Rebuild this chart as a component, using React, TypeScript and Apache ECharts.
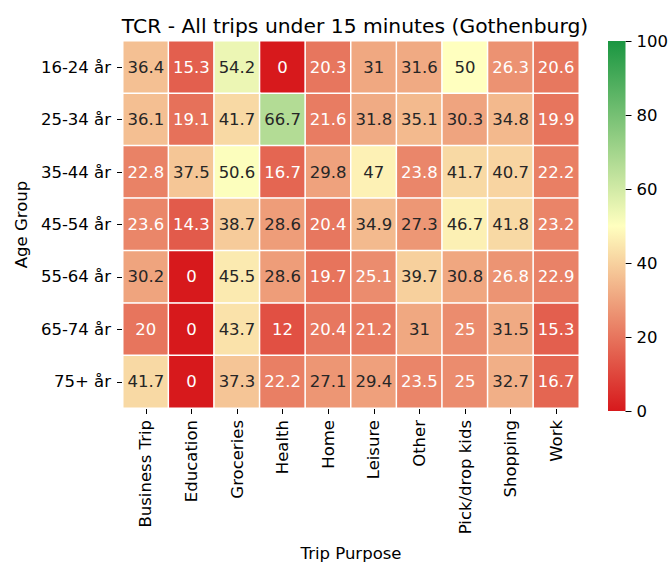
import React, { useEffect, useRef } from "react";
import * as echarts from "echarts";

const purposes = ["Business Trip", "Education", "Groceries", "Health", "Home", "Leisure", "Other", "Pick/drop kids", "Shopping", "Work"];
const ageGroups = ["16-24 år", "25-34 år", "35-44 år", "45-54 år", "55-64 år", "65-74 år", "75+ år"];
const row1624 = [36.4, 15.3, 54.2, 0, 20.3, 31, 31.6, 50, 26.3, 20.6];
const row2534 = [36.1, 19.1, 41.7, 66.7, 21.6, 31.8, 35.1, 30.3, 34.8, 19.9];
const row3544 = [22.8, 37.5, 50.6, 16.7, 29.8, 47, 23.8, 41.7, 40.7, 22.2];
const row4554 = [23.6, 14.3, 38.7, 28.6, 20.4, 34.9, 27.3, 46.7, 41.8, 23.2];
const row5564 = [30.2, 0, 45.5, 28.6, 19.7, 25.1, 39.7, 30.8, 26.8, 22.9];
const row6574 = [20, 0, 43.7, 12, 20.4, 21.2, 31, 25, 31.5, 15.3];
const row75 = [41.7, 0, 37.3, 22.2, 27.1, 29.4, 23.5, 25, 32.7, 16.7];
const rows = [row1624, row2534, row3544, row4554, row5564, row6574, row75];
const colorbarTicks = [0, 20, 40, 60, 80, 100];

const RED = [215, 25, 28];
const YEL = [255, 255, 191];
const GRN = [26, 150, 65];
const toHex = (c: number[]) => "#" + c.map((v) => Math.round(v).toString(16).padStart(2, "0")).join("");

function cmap(v: number): number[] {
  const t = Math.max(0, Math.min(1, v / 100));
  if (t <= 0.5) {
    const f = t / 0.5;
    return RED.map((r, i) => r + (YEL[i] - r) * f);
  }
  const f = (t - 0.5) / 0.5;
  return YEL.map((r, i) => r + (GRN[i] - r) * f);
}
function lum(c: number[]): number {
  const l = c.map((x) => {
    const s = x / 255;
    return s <= 0.03928 ? s / 12.92 : Math.pow((s + 0.055) / 1.055, 2.4);
  });
  return 0.2126 * l[0] + 0.7152 * l[1] + 0.0722 * l[2];
}

const FONT = "DejaVu Sans";
const FS = 16.5;

export default function App() {
  const ref = useRef<HTMLDivElement>(null);
  useEffect(() => {
    const chart = echarts.init(ref.current!, undefined, { renderer: "svg" });
    const data: any[] = [];
    rows.forEach((r, yi) => r.forEach((v, xi) => data.push([xi, yi, v])));
    chart.setOption({
      animation: false,
      backgroundColor: "#ffffff",
      textStyle: { fontFamily: FONT },
      title: {
        text: "TCR - All trips under 15 minutes (Gothenburg)",
        left: 350,
        top: 11,
        textAlign: "center",
        textStyle: { fontFamily: FONT, fontSize: 20.3, fontWeight: "normal", color: "#000" },
      },
      visualMap: {
        show: false,
        type: "continuous",
        min: 0,
        max: 100,
        dimension: 2,
        seriesIndex: 0,
        inRange: { color: [toHex(RED), toHex(YEL), toHex(GRN)] },
      },
      grid: [
        { left: 123, top: 41, width: 456, height: 370 },
        { left: 608, top: 41, width: 18, height: 370 },
      ],
      xAxis: [
        {
          gridIndex: 0,
          type: "category",
          data: purposes,
          name: "Trip Purpose",
          nameLocation: "middle",
          nameGap: 137,
          nameTextStyle: { fontFamily: FONT, fontSize: FS, color: "#000" },
          axisLine: { show: false },
          axisTick: { show: true, alignWithLabel: true, length: 6, lineStyle: { color: "#000", width: 1 } },
          axisLabel: { rotate: 90, fontFamily: FONT, fontSize: FS, color: "#000", margin: 12 },
          splitLine: { show: false },
        },
        {
          gridIndex: 1,
          type: "category",
          data: [""],
          show: false,
        },
      ],
      yAxis: [
        {
          gridIndex: 0,
          type: "category",
          data: ageGroups,
          inverse: true,
          name: "Age Group",
          nameLocation: "middle",
          nameGap: 92,
          nameRotate: 90,
          nameTextStyle: { fontFamily: FONT, fontSize: FS, color: "#000" },
          axisLine: { show: false },
          axisTick: { show: true, alignWithLabel: true, length: 6, lineStyle: { color: "#000", width: 1 } },
          axisLabel: { fontFamily: FONT, fontSize: FS, color: "#000", margin: 12 },
          splitLine: { show: false },
        },
        {
          gridIndex: 1,
          type: "value",
          min: 0,
          max: 100,
          interval: 20,
          position: "right",
          axisLine: { show: false },
          axisTick: { show: true, length: 6, lineStyle: { color: "#000", width: 1 } },
          axisLabel: {
            fontFamily: FONT,
            fontSize: FS,
            color: "#000",
            margin: 11,
            formatter: (v: number) => (colorbarTicks.includes(v) ? String(v) : ""),
          },
          splitLine: { show: false },
        },
      ],
      series: [
        {
          type: "heatmap",
          xAxisIndex: 0,
          yAxisIndex: 0,
          data,
          label: {
            show: true,
            fontFamily: FONT,
            fontSize: FS,
            formatter: (p: any) => {
              const v = p.value[2];
              return (lum(cmap(v)) > 0.408 ? "{d|" : "{w|") + String(v) + "}";
            },
            rich: {
              d: { color: "#262626", fontFamily: FONT, fontSize: FS },
              w: { color: "#ffffff", fontFamily: FONT, fontSize: FS },
            },
          },
          itemStyle: { borderColor: "#ffffff", borderWidth: 1.5 },
          emphasis: { disabled: true },
        },
        {
          type: "bar",
          xAxisIndex: 1,
          yAxisIndex: 1,
          data: [100],
          barWidth: "100%",
          silent: true,
          itemStyle: {
            color: new echarts.graphic.LinearGradient(0, 1, 0, 0, [
              { offset: 0, color: toHex(RED) },
              { offset: 0.5, color: toHex(YEL) },
              { offset: 1, color: toHex(GRN) },
            ]),
          },
        },
      ],
    });
    return () => chart.dispose();
  }, []);
  return <div ref={ref} style={{ width: 671, height: 567, position: "absolute", left: 0, top: 0 }} />;
}
